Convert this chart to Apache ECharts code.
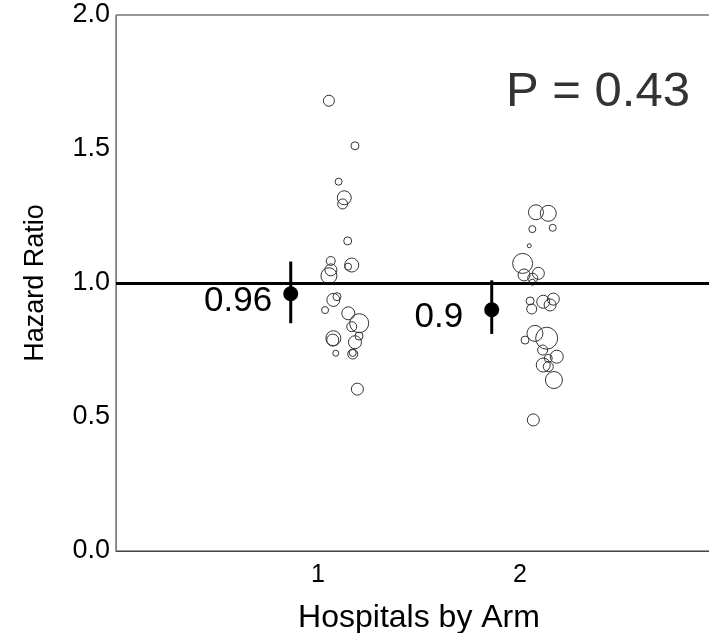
<!DOCTYPE html>
<html>
<head>
<meta charset="utf-8">
<script src="https://cdn.jsdelivr.net/npm/echarts@6/dist/echarts.min.js"></script>
<style>
  html, body { margin: 0; padding: 0; background: #fff; overflow: hidden; }
  #chart { width: 709px; height: 633px; }
</style>
</head>
<body>
<div id="chart"></div>
<script>
// hospital-level hazard ratios (jittered x position around each arm)
const arm1X = [1.054, 1.183, 1.102, 1.130, 1.122, 1.147, 1.063, 1.167, 1.149, 1.064, 1.054, 1.094, 1.076,
    1.035, 1.150, 1.204, 1.167, 1.203, 1.076, 1.073, 1.183, 1.088, 1.172, 1.172, 1.195];
const arm1HR = [1.680, 1.512, 1.378, 1.318, 1.295, 1.157, 1.082, 1.067, 1.061, 1.049, 1.027, 0.949, 0.937,
    0.899, 0.887, 0.850, 0.837, 0.802, 0.794, 0.787, 0.779, 0.738, 0.735, 0.739, 0.604];
const arm1Weight = [11, 8, 7, 14, 10, 8, 9, 14, 7, 12, 16, 8, 13, 7, 13, 19, 10, 8, 15, 12, 13, 6, 10, 7, 12];

const arm2X = [2.079, 2.140, 2.061, 2.162, 2.046, 2.013, 2.020, 2.091, 2.063, 2.061, 2.050, 2.115, 2.165,
    2.149, 2.058, 2.074, 2.025, 2.132, 2.112, 2.182, 2.140, 2.115, 2.140, 2.168, 2.066];
const arm2HR = [1.264, 1.260, 1.201, 1.206, 1.139, 1.073, 1.030, 1.036, 1.018, 1.003, 0.933, 0.930, 0.940,
    0.918, 0.903, 0.812, 0.787, 0.794, 0.750, 0.725, 0.719, 0.694, 0.688, 0.638, 0.489];
const arm2Weight = [15, 16, 7, 7, 4, 20, 12, 12, 10, 6, 8, 13, 12, 12, 10, 16, 8, 22, 10, 13, 8, 14, 10, 17, 12];

// pooled estimate per arm with 95% CI
const estX = [0.865, 1.86];
const estHR = [0.96, 0.9];
const ciLow = [0.85, 0.81];
const ciHigh = [1.08, 1.01];

const xTicks = [1, 2];
const yTicks = [0, 0.5, 1, 1.5, 2];
const pText = "P = 0.43";

const FONT = "Liberation Sans, Arial, sans-serif";

function toPoints(xs, ys, ws) {
    return xs.map((x, i) => [x, ys[i], ws[i]]);
}

const hospitals = toPoints(arm1X, arm1HR, arm1Weight).concat(toPoints(arm2X, arm2HR, arm2Weight));
const estimates = estX.map((x, i) => [x, estHR[i], ciLow[i], ciHigh[i]]);

/* draw a vertical CI bar for each estimate */
function renderErrorBar(params, api) {
    const x = api.value(0);
    const lo = api.coord([x, api.value(2)]);
    const hi = api.coord([x, api.value(3)]);
    return {
        type: "line",
        shape: { x1: lo[0], y1: lo[1], x2: hi[0], y2: hi[1] },
        style: { stroke: "#000", lineWidth: 3 },
    };
}

const labelGap = [11, 21];

let myChart = echarts.init(document.getElementById("chart"));
const option = {
    animation: false,
    textStyle: { fontFamily: FONT },
    title: {
        text: pText,
        left: 506,
        top: 68,
        padding: 0,
        textStyle: { fontFamily: FONT, fontSize: 49, fontWeight: "normal", color: "#333" },
    },
    grid: {
        left: 116,
        top: 15,
        width: 606,
        height: 536,
        outerBoundsMode: "none",
        containLabel: false,
        show: true,
        borderColor: "#333",
        borderWidth: 1,
    },
    xAxis: {
        type: "value",
        min: 0,
        max: 3,
        interval: 1,
        name: "Hospitals by Arm",
        nameLocation: "middle",
        nameGap: 51,
        nameTextStyle: { fontFamily: FONT, fontSize: 32, color: "#000" },
        axisLine: { show: true, lineStyle: { color: "#444", width: 1 } },
        axisTick: { show: false },
        splitLine: { show: false },
        axisLabel: {
            customValues: xTicks,
            fontFamily: FONT,
            fontSize: 25,
            color: "#000",
            margin: 12,
        },
    },
    yAxis: {
        type: "value",
        min: 0,
        max: 2,
        interval: 0.5,
        name: "Hazard Ratio",
        nameLocation: "middle",
        nameGap: 67,
        nameTextStyle: { fontFamily: FONT, fontSize: 27, color: "#000" },
        axisLine: { show: true, lineStyle: { color: "#808080", width: 1 } },
        axisTick: { show: false },
        splitLine: { show: false },
        axisLabel: {
            customValues: yTicks,
            fontFamily: FONT,
            fontSize: 27,
            color: "#000",
            margin: 6,
            formatter: (v) => v.toFixed(1),
        },
    },
    series: [
        {
            name: "Hospitals",
            type: "scatter",
            data: hospitals,
            symbol: "circle",
            symbolSize: (d) => d[2],
            itemStyle: { color: "rgba(0,0,0,0)", borderColor: "#333", borderWidth: 1, opacity: 1 },
            markLine: {
                silent: true,
                symbol: "none",
                label: { show: false },
                lineStyle: { color: "#000", width: 3, type: "solid" },
                data: [{ yAxis: 1 }],
            },
            z: 2,
        },
        {
            name: "CI",
            type: "custom",
            renderItem: renderErrorBar,
            data: estimates,
            z: 3,
        },
        {
            name: "Estimate",
            type: "scatter",
            data: estimates.map((d, i) => ({
                value: d,
                label: { distance: labelGap[i] },
            })),
            symbolSize: 15,
            itemStyle: { color: "#000", opacity: 1 },
            label: {
                show: true,
                position: "left",
                offset: [0, 8],
                fontFamily: FONT,
                fontSize: 35,
                color: "#000",
                formatter: (p) => String(p.value[1]),
            },
            z: 4,
        },
    ],
};
myChart.setOption(option);
window.addEventListener("resize", function () {
    myChart.resize();
});
</script>
</body>
</html>
